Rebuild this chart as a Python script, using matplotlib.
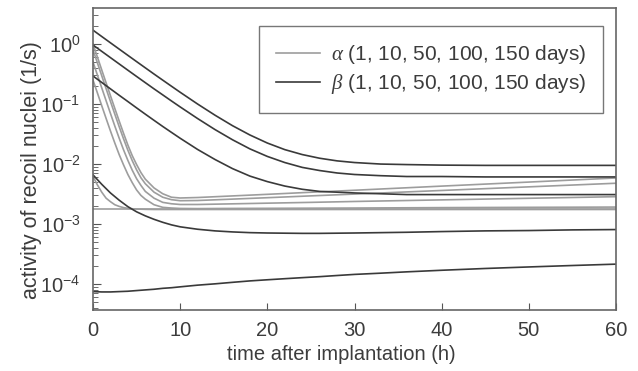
import math
import matplotlib
matplotlib.use("Agg")
import matplotlib.pyplot as plt
from matplotlib.ticker import LogLocator, NullFormatter, FuncFormatter

plt.rcParams['font.family'] = ['Liberation Sans', 'DejaVu Sans']
plt.rcParams['mathtext.fontset'] = 'custom'
plt.rcParams['mathtext.rm'] = 'Liberation Sans'
plt.rcParams['mathtext.it'] = 'Liberation Serif:italic'
plt.rcParams['mathtext.default'] = 'it'

# beta curves (1, 10, 50, 100, 150 days)
t_beta = [0, 1, 2, 3, 4, 5, 6, 7, 8, 9, 10, 12, 14, 16, 18, 20, 22, 24, 26, 28, 30, 33, 36,
          40, 45, 50, 55, 60]
beta_150 = [1.70, 1.334, 1.047, 0.823, 0.647, 0.509, 0.401, 0.316, 0.250, 0.198, 0.157, 0.100,
            0.0651, 0.0436, 0.0305, 0.0224, 0.0174, 0.0144, 0.0125, 0.0113, 0.0106, 0.0100,
            0.0098, 0.0096, 0.0095, 0.0095, 0.0095, 0.0095]
beta_100 = [0.961, 0.755, 0.593, 0.466, 0.366, 0.288, 0.227, 0.179, 0.142, 0.1125, 0.0895,
            0.0573, 0.0375, 0.0254, 0.0179, 0.0134, 0.0106, 0.0088, 0.0078, 0.0071, 0.0067,
            0.0064, 0.0062, 0.0062, 0.0061, 0.0061, 0.0061, 0.0061]
beta_50 = [0.293, 0.229, 0.179, 0.140, 0.110, 0.0862, 0.0678, 0.0535, 0.0423, 0.0337, 0.0269,
           0.0175, 0.0119, 0.0084, 0.0063, 0.0051, 0.0043, 0.0038, 0.0035, 0.0034, 0.0033,
           0.0032, 0.0031, 0.0031, 0.0031, 0.0031, 0.0031, 0.0031]
beta_10 = [0.0066, 0.0046, 0.0033, 0.0025, 0.00195, 0.0016, 0.00137, 0.00120, 0.00107,
           0.00097, 0.00090, 0.00082, 0.00077, 0.00074, 0.00072, 0.00071, 0.000705, 0.0007,
           0.0007, 0.000705, 0.00071, 0.00072, 0.00073, 0.00075, 0.00077, 0.00078, 0.0008,
           0.00081]
beta_1 = [7.5e-5, 7.4e-5, 7.4e-5, 7.5e-5, 7.6e-5, 7.8e-5, 8.0e-5, 8.2e-5, 8.5e-5, 8.7e-5,
          9.0e-5, 9.6e-5, 1.01e-4, 1.07e-4, 1.13e-4, 1.18e-4, 1.23e-4, 1.28e-4, 1.33e-4,
          1.39e-4, 1.45e-4, 1.52e-4, 1.60e-4, 1.70e-4, 1.82e-4, 1.93e-4, 2.04e-4, 2.15e-4]

# alpha curves
t_alpha = [0, 0.5, 1, 1.5, 2, 2.5, 3, 3.5, 4, 4.5, 5, 5.5, 6, 7, 8, 9, 10, 12, 15, 20, 25,
           30, 40, 50, 60]
alpha_150 = [1.0, 0.609, 0.370, 0.2255, 0.1377, 0.0845, 0.0522, 0.0326, 0.0207, 0.0138,
             0.0098, 0.0072, 0.0056, 0.0040, 0.0032, 0.0028, 0.00272, 0.00277, 0.0029,
             0.00313, 0.00339, 0.00366, 0.00429, 0.00501, 0.00586]
alpha_100 = [0.80, 0.487, 0.2964, 0.1806, 0.1105, 0.0679, 0.0420, 0.0264, 0.0170, 0.0114,
             0.0080, 0.0059, 0.0047, 0.0034, 0.0028, 0.00255, 0.00245, 0.00247, 0.00257,
             0.00275, 0.00295, 0.00316, 0.00363, 0.00417, 0.00479]
alpha_50 = [0.50, 0.305, 0.186, 0.1136, 0.0697, 0.0430, 0.0270, 0.0173, 0.0115, 0.0079,
            0.0057, 0.0044, 0.0035, 0.0027, 0.0023, 0.00218, 0.00212, 0.00212, 0.00216,
            0.00223, 0.0023, 0.00238, 0.00253, 0.00269, 0.00286]
alpha_10 = [0.25, 0.1534, 0.0938, 0.0576, 0.0356, 0.0224, 0.0144, 0.0097, 0.0067, 0.0049,
            0.0037, 0.0030, 0.0026, 0.0021, 0.0019, 0.00185, 0.00182, 0.00181, 0.00182,
            0.00183, 0.00184, 0.00185, 0.00188, 0.0019, 0.00192]
alpha_1 = [0.0062, 0.0045, 0.0034, 0.0027, 0.00236, 0.0021, 0.00197, 0.00188, 0.00183,
           0.0018, 0.00178, 0.00177, 0.00176, 0.00175, 0.00175, 0.00175, 0.00175, 0.00175,
           0.00175, 0.00175, 0.00175, 0.00175, 0.00175, 0.00175, 0.00175]
t_floor = [0, 60]
alpha_floor = [0.00175, 0.00175]

gray = '#9d9d9d'
dark = '#3a3a3a'
txt = '#3c3c3c'

fig = plt.figure(figsize=(6.38, 3.71), dpi=100)
ax = fig.add_axes([0.1458, 0.1644, 0.8197, 0.8140])

for a in [alpha_150, alpha_100, alpha_50, alpha_10, alpha_1]:
    ax.plot(t_alpha, a, color=gray, lw=1.2)
ax.plot(t_floor, alpha_floor, color=gray, lw=1.2)
for b in [beta_150, beta_100, beta_50, beta_10, beta_1]:
    ax.plot(t_beta, b, color=dark, lw=1.2)

# legend entries only
ax.plot([], [], color=gray, lw=1.2, label=r'$\alpha$ (1, 10, 50, 100, 150 days)')
ax.plot([], [], color=dark, lw=1.2, label=r'$\beta$ (1, 10, 50, 100, 150 days)')
leg = ax.legend(loc='upper right', bbox_to_anchor=(0.9747, 0.94),
                fontsize=15, frameon=True, fancybox=False, handlelength=2.15,
                handletextpad=0.5, borderpad=0.8, labelspacing=0.3, borderaxespad=0)
leg.get_frame().set_edgecolor('#555555')
leg.get_frame().set_linewidth(1.0)
for t in leg.get_texts():
    t.set_color(txt)

ax.set_yscale('log')
ax.set_xlim(0, 60)
ax.set_ylim(3.7e-5, 3.98)
ax.set_xticks([0, 10, 20, 30, 40, 50, 60])
ax.yaxis.set_major_locator(LogLocator(base=10, numticks=10))
ax.yaxis.set_minor_locator(LogLocator(base=10, subs=range(2, 10), numticks=20))
ax.yaxis.set_minor_formatter(NullFormatter())
ax.yaxis.set_major_formatter(FuncFormatter(
    lambda v, p: r'$\mathregular{10^{%d}}$' % round(math.log10(v))))

ax.tick_params(axis='both', which='both', direction='in', colors='#555555',
               labelcolor=txt, labelsize=14.5, top=False, right=False)
ax.tick_params(axis='y', which='major', length=6, pad=9)
ax.tick_params(axis='y', which='minor', length=3.5)
ax.tick_params(axis='x', which='major', length=5, pad=8)
for s in ax.spines.values():
    s.set_color('#666666')
    s.set_linewidth(1.2)

ax.set_xlabel('time after implantation (h)', fontsize=14.5, color=txt)
ax.set_ylabel('activity of recoil nuclei (1/s)', fontsize=15.5, color=txt)
ax.xaxis.set_label_coords(0.474, -0.115)
ax.yaxis.set_label_coords(-0.097, 0.465)

fig.savefig('out.png', dpi=100)
